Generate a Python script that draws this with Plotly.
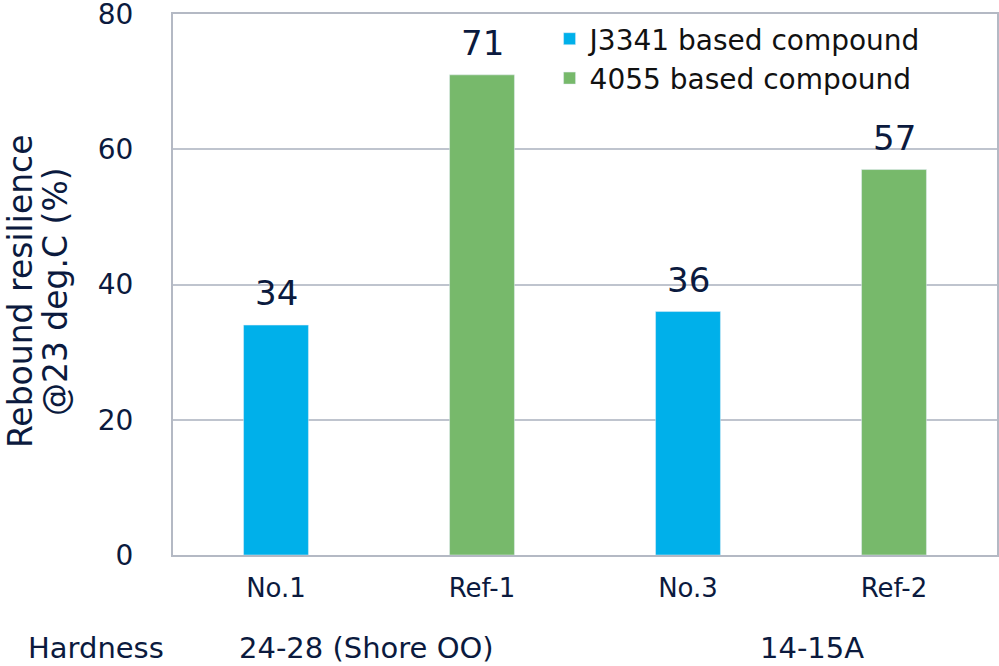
import plotly.graph_objects as go

categories = ["No.1", "Ref-1", "No.3", "Ref-2"]
j3341_x = ["No.1", "No.3"]
j3341_y = [34, 36]
c4055_x = ["Ref-1", "Ref-2"]
c4055_y = [71, 57]
series_names = ["J3341 based compound", "4055 based compound"]
y_title_lines = ["Rebound resilience", "@23 deg.C (%)"]
hardness_title = "Hardness"
hardness_labels = ["24-28 (Shore OO)", "14-15A"]
hardness_pos = [0.44, 2.6]
y_ticks = [0, 20, 40, 60, 80]

NAVY = "#0B1A3E"
FONT = "DejaVu Sans, sans-serif"
BLUE = "#00B0EA"
GREEN = "#77B96B"

fig = go.Figure()
fig.add_trace(go.Bar(x=j3341_x, y=j3341_y, name=series_names[0], marker_color=BLUE,
                     width=0.315))
fig.add_trace(go.Bar(x=c4055_x, y=c4055_y, name=series_names[1], marker_color=GREEN,
                     width=0.315))

# value labels above bars
for xs, ys in ((j3341_x, j3341_y), (c4055_x, c4055_y)):
    for xv, yv in zip(xs, ys):
        fig.add_annotation(text=str(yv), x=xv, y=yv, xref="x", yref="y",
                           xanchor="center", yanchor="bottom", yshift=10,
                           showarrow=False, font=dict(size=34, color=NAVY, family=FONT))

fig.update_layout(
    width=999, height=666,
    margin=dict(l=173, r=2, t=14, b=111),
    paper_bgcolor="white", plot_bgcolor="white",
    barmode="overlay",
    font=dict(family=FONT, color=NAVY),
    legend=dict(x=0.457, y=1.0, xanchor="left", yanchor="top",
                font=dict(size=28, color="#111111", family=FONT),
                bgcolor="rgba(0,0,0,0)", tracegroupgap=0, itemwidth=30),
    xaxis=dict(categoryorder="array", categoryarray=categories, range=[-0.5, 3.5],
               showline=True, linecolor="#B4B9C4", linewidth=2, mirror=True,
               ticks="outside", ticklen=9, tickcolor="rgba(0,0,0,0)",
               tickfont=dict(size=26, color=NAVY, family=FONT), showgrid=False,
               automargin=False),
    yaxis=dict(range=[0, 80], tickvals=y_ticks, showline=True, linecolor="#B4B9C4",
               linewidth=2, mirror=True, gridcolor="#BFC4CE", gridwidth=1.5,
               ticks="outside", ticklen=32, tickcolor="rgba(0,0,0,0)",
               tickfont=dict(size=28, color=NAVY, family=FONT),
               ticklabeloverflow="allow",
               zeroline=False, automargin=False),
)

for line, xp in zip(y_title_lines, [-0.185, -0.1425]):
    fig.add_annotation(text=line, xref="paper", yref="paper", x=xp, y=0.487,
                       xanchor="center", yanchor="middle", textangle=-90, showarrow=False,
                       font=dict(size=33, color=NAVY, family=FONT))

fig.add_annotation(text=hardness_title, xref="paper", yref="paper", x=-0.094, y=-0.172,
                   xanchor="center", yanchor="middle", showarrow=False,
                   font=dict(size=29, color=NAVY, family=FONT))
for lab, pos in zip(hardness_labels, hardness_pos):
    fig.add_annotation(text=lab, xref="x", yref="paper", x=pos, y=-0.172,
                       xanchor="center", yanchor="middle", showarrow=False,
                       font=dict(size=29, color=NAVY, family=FONT))

fig.write_html("out.html", config={"displayModeBar": False},
               post_script="document.body.style.margin='0';document.body.style.overflow='hidden';")
